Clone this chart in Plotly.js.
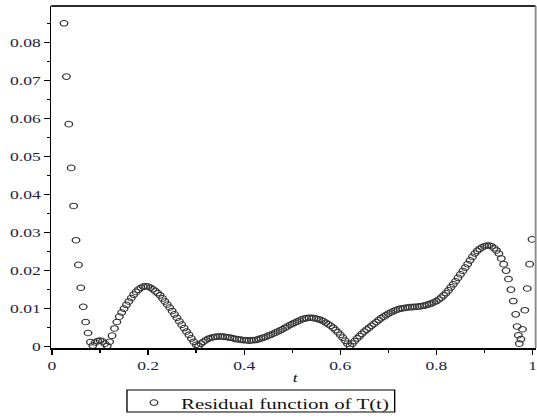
<!DOCTYPE html>
<html>
<head>
<meta charset="utf-8">
<script src="https://cdn.plot.ly/plotly-3.0.1.min.js"></script>
<style>
  html, body { margin: 0; padding: 0; background: #fff; overflow: hidden; }
  #plot { width: 398px; height: 418px; transform: scaleX(1.3492); transform-origin: 0 0; }
</style>
</head>
<body>
<div id="plot"></div>
<script>
// Sample points t and residual values
const tValues = [
  0.025, 0.030, 0.035, 0.040, 0.045, 0.050, 0.055, 0.060, 0.065, 0.070,
  0.075, 0.080, 0.085, 0.090, 0.095, 0.100, 0.105, 0.110, 0.115, 0.120,
  0.125, 0.130, 0.135, 0.140, 0.145, 0.150, 0.155, 0.160, 0.165, 0.170,
  0.175, 0.180, 0.185, 0.190, 0.195, 0.200, 0.205, 0.210, 0.215, 0.220,
  0.225, 0.230, 0.235, 0.240, 0.245, 0.250, 0.255, 0.260, 0.265, 0.270,
  0.275, 0.280, 0.285, 0.290, 0.295, 0.300, 0.305, 0.310, 0.315, 0.320,
  0.325, 0.330, 0.335, 0.340, 0.345, 0.350, 0.355, 0.360, 0.365, 0.370,
  0.375, 0.380, 0.385, 0.390, 0.395, 0.400, 0.405, 0.410, 0.415, 0.420,
  0.425, 0.430, 0.435, 0.440, 0.445, 0.450, 0.455, 0.460, 0.465, 0.470,
  0.475, 0.480, 0.485, 0.490, 0.495, 0.500, 0.505, 0.510, 0.515, 0.520,
  0.525, 0.530, 0.535, 0.540, 0.545, 0.550, 0.555, 0.560, 0.565, 0.570,
  0.575, 0.580, 0.585, 0.590, 0.595, 0.600, 0.605, 0.610, 0.615, 0.620,
  0.625, 0.630, 0.635, 0.640, 0.645, 0.650, 0.655, 0.660, 0.665, 0.670,
  0.675, 0.680, 0.685, 0.690, 0.695, 0.700, 0.705, 0.710, 0.715, 0.720,
  0.725, 0.730, 0.735, 0.740, 0.745, 0.750, 0.755, 0.760, 0.765, 0.770,
  0.775, 0.780, 0.785, 0.790, 0.795, 0.800, 0.805, 0.810, 0.815, 0.820,
  0.825, 0.830, 0.835, 0.840, 0.845, 0.850, 0.855, 0.860, 0.865, 0.870,
  0.875, 0.880, 0.885, 0.890, 0.895, 0.900, 0.905, 0.910, 0.915, 0.920,
  0.925, 0.930, 0.935, 0.940, 0.945, 0.950, 0.955, 0.960, 0.965, 0.968,
  0.9705, 0.9725, 0.9758, 0.979, 0.984, 0.989, 0.994, 0.999
];
const residualValues = [
  0.0850, 0.0710, 0.0585, 0.0470, 0.0370, 0.0280, 0.0215, 0.0155, 0.0105, 0.0065,
  0.0036, 0.0012, 0.0003, 0.0011, 0.0015, 0.0016, 0.0014, 0.0008, 0.0002, 0.0013,
  0.0029, 0.0048, 0.0065, 0.0079, 0.0090, 0.0100, 0.0110, 0.0119, 0.0128, 0.0137,
  0.0144, 0.0150, 0.0155, 0.0158, 0.0159, 0.0158, 0.0155, 0.0151, 0.0146, 0.0141,
  0.0135, 0.0127, 0.0119, 0.0111, 0.0103, 0.0094, 0.0085, 0.0076, 0.0067, 0.0058,
  0.0049, 0.0040, 0.0031, 0.0022, 0.0013, 0.0005, 0.0002, 0.0008, 0.0013, 0.0017,
  0.0021, 0.0023, 0.0025, 0.0026, 0.0027, 0.0027, 0.0027, 0.0026, 0.0025, 0.0024,
  0.0023, 0.0021, 0.0020, 0.0019, 0.0018, 0.0017, 0.0017, 0.0016, 0.0017, 0.0017,
  0.0018, 0.0020, 0.0022, 0.0024, 0.0026, 0.0029, 0.0031, 0.0034, 0.0037, 0.0040,
  0.0043, 0.0046, 0.0050, 0.0053, 0.0057, 0.0060, 0.0063, 0.0066, 0.0069, 0.0072,
  0.0074, 0.0075, 0.0076, 0.0076, 0.0075, 0.0074, 0.0072, 0.0070, 0.0067, 0.0063,
  0.0059, 0.0055, 0.0050, 0.0044, 0.0038, 0.0031, 0.0024, 0.0016, 0.0008, 0.0002,
  0.0008, 0.0015, 0.0022, 0.0028, 0.0034, 0.0040, 0.0045, 0.0050, 0.0055, 0.0060,
  0.0065, 0.0070, 0.0075, 0.0079, 0.0083, 0.0087, 0.0090, 0.0093, 0.0096, 0.0098,
  0.0100, 0.0101, 0.0102, 0.0103, 0.0104, 0.0104, 0.0105, 0.0105, 0.0106, 0.0107,
  0.0108, 0.0110, 0.0112, 0.0114, 0.0117, 0.0120, 0.0124, 0.0129, 0.0135, 0.0141,
  0.0148, 0.0156, 0.0164, 0.0172, 0.0181, 0.0190, 0.0199, 0.0208, 0.0217, 0.0227,
  0.0236, 0.0245, 0.0252, 0.0257, 0.0261, 0.0264, 0.0266, 0.0266, 0.0264, 0.0259,
  0.0253, 0.0245, 0.0232, 0.0217, 0.0200, 0.0178, 0.0150, 0.0120, 0.0085, 0.0053,
  0.0030, 0.0008, 0.0020, 0.0046, 0.0096, 0.0153, 0.0217, 0.0282
];

const xTickVals = [0, 0.2, 0.4, 0.6, 0.8, 1];
const xTickText = ["0", "0.2", "0.4", "0.6", "0.8", "1"];
const xMinorVals = [0.1, 0.3, 0.5, 0.7, 0.9];
const yTickVals = [0, 0.01, 0.02, 0.03, 0.04, 0.05, 0.06, 0.07, 0.08];
const yTickText = ["0", "0.01", "0.02", "0.03", "0.04", "0.05", "0.06", "0.07", "0.08"];
const yMinorVals = [0.005, 0.015, 0.025, 0.035, 0.045, 0.055, 0.065, 0.075, 0.085];
const seriesName = "Residual function of T(t)";
const xLabel = "t";

const serif = "Liberation Serif, Times New Roman, serif";
const tickColor = "#1c2440";

const trace = {
  x: tValues,
  y: residualValues,
  type: "scatter",
  mode: "markers",
  name: seriesName,
  marker: {
    symbol: "circle-open",
    size: 5.6,
    color: "#333333",
    line: { width: 1, color: "#333333" }
  },
  showlegend: true,
  cliponaxis: true
};

const layout = {
  width: 398,
  height: 418,
  margin: { l: 38, r: 1, t: 6, b: 70, pad: 0, autoexpand: false },
  paper_bgcolor: "#ffffff",
  plot_bgcolor: "#ffffff",
  font: { family: serif, size: 13, color: tickColor },
  showlegend: true,
  xaxis: {
    range: [-0.0015, 1.0065],
    tickvals: xTickVals,
    ticktext: xTickText,
    ticks: "outside",
    ticklen: 5,
    tickwidth: 1,
    tickcolor: "#000",
    tickfont: { family: serif, size: 13, color: tickColor },
    ticklabeloverflow: "allow",
    showline: true,
    linecolor: "#000",
    linewidth: 1.5,
    showgrid: false,
    zeroline: false,
    automargin: false,
    minor: { tickvals: xMinorVals, ticks: "outside", ticklen: 3, tickwidth: 1, tickcolor: "#000", showgrid: false }
  },
  yaxis: {
    range: [-0.00034, 0.08955],
    tickvals: yTickVals,
    ticktext: yTickText,
    ticks: "outside",
    ticklen: 4,
    tickwidth: 1,
    tickcolor: "#000",
    tickfont: { family: serif, size: 13, color: tickColor },
    ticklabeloverflow: "allow",
    showline: true,
    linecolor: "#000",
    linewidth: 1.2,
    showgrid: false,
    zeroline: false,
    automargin: false,
    minor: { tickvals: yMinorVals, ticks: "outside", ticklen: 2.2, tickwidth: 1, tickcolor: "#000", showgrid: false }
  },
  shapes: [
    { type: "line", xref: "paper", yref: "paper", x0: 0, x1: 1, y0: 1, y1: 1, line: { color: "#2a2a2a", width: 2 } },
    { type: "line", xref: "paper", yref: "paper", x0: 1, x1: 1, y0: 0, y1: 1, line: { color: "#8a8a8a", width: 1.4 } },
    { type: "rect", xref: "paper", yref: "paper", x0: 0.1563, x1: 0.709, y0: -0.1871, y1: -0.1228,
      line: { color: "#000", width: 1 }, fillcolor: "rgba(0,0,0,0)" }
  ],
  annotations: [
    { text: "<i>" + xLabel + "</i>", xref: "paper", yref: "paper", x: 0.505, y: -0.0848,
      xanchor: "center", yanchor: "middle", showarrow: false,
      font: { family: serif, size: 13, color: "#111" } }
  ],
  legend: {
    orientation: "h",
    x: 0.1563,
    y: -0.1111,
    xanchor: "left",
    yanchor: "top",
    bgcolor: "rgba(0,0,0,0)",
    borderwidth: 0,
    font: { family: serif, size: 15.5, color: "#111" }
  }
};

Plotly.newPlot("plot", [trace], layout, { displayModeBar: false, staticPlot: true });
</script>
</body>
</html>
